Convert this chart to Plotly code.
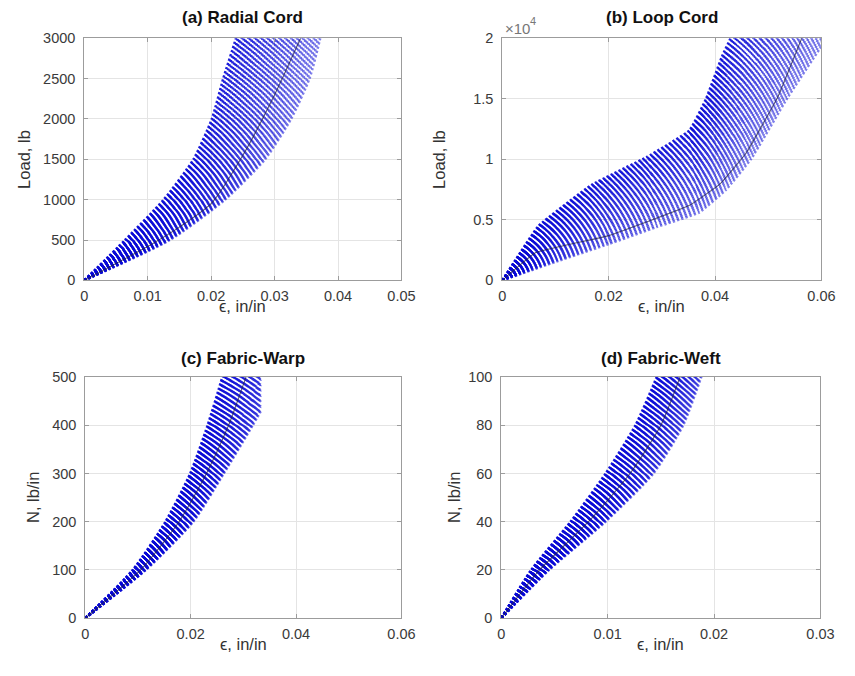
import numpy as np
import plotly.graph_objects as go

W, H = 855, 676

# ---------------- data ----------------
# (a) Radial Cord : envelope of the curve family at common loads (lb)
a_load = [0, 500, 1000, 1500, 2000, 2500, 3000, 3500]
a_eps_stiff = [0, 0.0064, 0.0125, 0.0172, 0.0201, 0.0219, 0.0239, 0.0255]
a_eps_soft = [0, 0.0135, 0.0222, 0.0285, 0.0326, 0.0355, 0.0372, 0.0385]
a_nom_eps = [0, 0.0055, 0.0100, 0.0150, 0.0200, 0.0250, 0.0300, 0.0341]
a_nom_load = [0, 230, 420, 660, 950, 1550, 2300, 3000]

# (b) Loop Cord
b_stiff_eps = [0, 0.0068, 0.0168, 0.0272, 0.0352, 0.0383, 0.0413, 0.0429, 0.0445]
b_stiff_load = [0, 4500, 7900, 10200, 12400, 15000, 18500, 20000, 22000]
b_soft_eps = [0, 0.0105, 0.0200, 0.0290, 0.0370, 0.0420, 0.0468, 0.0536, 0.0610]
b_soft_load = [0, 1600, 3000, 4400, 5600, 7450, 10040, 15060, 20000]
b_nom_eps = [0, 0.0063, 0.0200, 0.0352, 0.0410, 0.0458, 0.0517, 0.0563]
b_nom_load = [0, 2300, 3700, 6200, 8000, 10500, 15060, 20000]

# (c) Fabric-Warp (N, lb/in)
c_load = [0, 100, 200, 300, 400, 500, 600]
c_eps_stiff = [0, 0.0090, 0.0152, 0.0199, 0.0232, 0.0260, 0.0285]
c_eps_soft = [0, 0.0115, 0.0205, 0.0263, 0.0318, 0.0370, 0.0420]
c_eps_max = 0.0333
c_nom_eps = [0, 0.0105, 0.0178, 0.0230, 0.0272, 0.0305]
c_nom_load = [0, 100, 200, 300, 400, 500]

# (d) Fabric-Weft (N, lb/in)
d_load = [0, 20, 40, 60, 80, 100, 120]
d_eps_stiff = [0, 0.0028, 0.0065, 0.0098, 0.0126, 0.0146, 0.0163]
d_eps_soft = [0, 0.0045, 0.0098, 0.0143, 0.0171, 0.0188, 0.0203]
d_nom_eps = [0, 0.0036, 0.0082, 0.0121, 0.0150, 0.0168]
d_nom_load = [0, 20, 40, 60, 80, 100]

# ticks
a_xt = [0, 0.01, 0.02, 0.03, 0.04, 0.05]
a_xl = ['0', '0.01', '0.02', '0.03', '0.04', '0.05']
a_yt = [0, 500, 1000, 1500, 2000, 2500, 3000]
a_yl = ['0', '500', '1000', '1500', '2000', '2500', '3000']
b_xt = [0, 0.02, 0.04, 0.06]
b_xl = ['0', '0.02', '0.04', '0.06']
b_yt = [0, 5000, 10000, 15000, 20000]
b_yl = ['0', '0.5', '1', '1.5', '2']
c_xt = [0, 0.02, 0.04, 0.06]
c_xl = ['0', '0.02', '0.04', '0.06']
c_yt = [0, 100, 200, 300, 400, 500]
c_yl = ['0', '100', '200', '300', '400', '500']
d_xt = [0, 0.01, 0.02, 0.03]
d_xl = ['0', '0.01', '0.02', '0.03']
d_yt = [0, 20, 40, 60, 80, 100]
d_yl = ['0', '20', '40', '60', '80', '100']

titles = ['(a) Radial Cord', '(b) Loop Cord', '(c) Fabric-Warp', '(d) Fabric-Weft']
ylabels = ['Load, lb', 'Load, lb', 'N, lb/in', 'N, lb/in']
xlabel = '\u03f5, in/in'
b_exp_base = '\u00d710'
b_exp_power = '4'

# ---------------- styling ----------------
N_CURVES = 42
FONT = 'Liberation Sans, Arial, sans-serif'
AXC = '#9c9c9c'
GRID = '#e4e4e4'

fig = go.Figure()


def clip_x(x, y, xmax):
    xs, ys = [x[0]], [y[0]]
    for i in range(1, len(x)):
        if x[i] <= xmax:
            xs.append(x[i]); ys.append(y[i])
        else:
            t = (xmax - x[i - 1]) / (x[i] - x[i - 1])
            xs.append(xmax); ys.append(y[i - 1] + t * (y[i] - y[i - 1]))
            break
    return xs, ys


def add_band(ax_id, x0, y0, x1, y1, nom_x, nom_y, xmax=None, smooth=0.6):
    x0, y0, x1, y1 = map(lambda v: np.asarray(v, float), (x0, y0, x1, y1))
    xa = 'x' if ax_id == 1 else f'x{ax_id}'
    ya = 'y' if ax_id == 1 else f'y{ax_id}'
    for k in range(N_CURVES):
        f = k / (N_CURVES - 1)
        xs = (1 - f) * x0 + f * x1
        ys = (1 - f) * y0 + f * y1
        if xmax is not None:
            xs, ys = clip_x(list(xs), list(ys), xmax)
        alpha = 0.92 - 0.40 * f
        fig.add_trace(go.Scatter(
            x=xs, y=ys, mode='lines', xaxis=xa, yaxis=ya,
            line=dict(color=f'rgba(10,10,215,{alpha:.3f})', width=2.4,
                      dash='2.3px,2.1px', shape='spline', smoothing=smooth),
            hoverinfo='skip', showlegend=False))
    fig.add_trace(go.Scatter(
        x=nom_x, y=nom_y, mode='lines', xaxis=xa, yaxis=ya,
        line=dict(color='rgba(35,35,70,0.7)', width=1.1, shape='spline', smoothing=smooth),
        hoverinfo='skip', showlegend=False))


add_band(1, a_eps_stiff, a_load, a_eps_soft, a_load, a_nom_eps, a_nom_load)
add_band(2, b_stiff_eps, b_stiff_load, b_soft_eps, b_soft_load, b_nom_eps, b_nom_load, smooth=0.3)
add_band(3, c_eps_stiff, c_load, c_eps_soft, c_load, c_nom_eps, c_nom_load, xmax=c_eps_max)
add_band(4, d_eps_stiff, d_load, d_eps_soft, d_load, d_nom_eps, d_nom_load)

# plot-area boxes in pixels: (left, top, right, bottom)
boxes = [(82, 31, 406, 279), (509, 31, 835, 279), (83, 378, 406, 625), (508, 378, 834, 625)]
xr = [[0, 0.05], [0, 0.06], [0, 0.06], [0, 0.03]]
yr = [[0, 3000], [0, 20000], [0, 500], [0, 100]]
xts = [(a_xt, a_xl), (b_xt, b_xl), (c_xt, c_xl), (d_xt, d_xl)]
yts = [(a_yt, a_yl), (b_yt, b_yl), (c_yt, c_yl), (d_yt, d_yl)]

common = dict(showline=True, linecolor=AXC, linewidth=1, mirror='ticks', ticks='inside',
              ticklen=4, tickcolor=AXC, showgrid=True, gridcolor=GRID, gridwidth=1,
              zeroline=False, fixedrange=True,
              tickfont=dict(family=FONT, size=14.5, color='#3a3a3a'))

layout = {}
annotations = []
for i, (l, t, r, b) in enumerate(boxes):
    n = '' if i == 0 else str(i + 1)
    layout['xaxis' + n] = dict(common, domain=[l / W, r / W], range=xr[i],
                               tickvals=xts[i][0], ticktext=xts[i][1],
                               anchor='y' + n, ticklabelstandoff=2)
    layout['yaxis' + n] = dict(common, domain=[1 - b / H, 1 - t / H], range=yr[i],
                               tickvals=yts[i][0], ticktext=yts[i][1],
                               anchor='x' + n, ticklabelstandoff=5)
    cx = (l + r) / 2
    ty = t - 21 if i < 2 else t - 19
    annotations.append(dict(text='<b>' + titles[i] + '</b>', x=cx / W, y=1 - ty / H,
                            xref='paper', yref='paper', showarrow=False,
                            xanchor='center', yanchor='middle',
                            font=dict(family=FONT, size=17, color='#111')))
    annotations.append(dict(text=xlabel, x=cx / W, y=1 - (b + 26) / H,
                            xref='paper', yref='paper', showarrow=False,
                            xanchor='center', yanchor='middle',
                            font=dict(family=FONT, size=16.5, color='#333')))
ylab_x = [21, 445, 29, 459]
for i, (l, t, r, b) in enumerate(boxes):
    annotations.append(dict(text=ylabels[i], x=ylab_x[i] / W, y=1 - ((t + b) / 2) / H,
                            xref='paper', yref='paper', showarrow=False, textangle=-90,
                            xanchor='center', yanchor='middle',
                            font=dict(family=FONT, size=16.5, color='#333')))
annotations.append(dict(text=b_exp_base, x=510 / W, y=1 - 21 / H,
                        xref='paper', yref='paper', showarrow=False,
                        xanchor='left', yanchor='middle',
                        font=dict(family=FONT, size=15, color='#777')))
annotations.append(dict(text=b_exp_power, x=535 / W, y=1 - 13 / H,
                        xref='paper', yref='paper', showarrow=False,
                        xanchor='left', yanchor='middle',
                        font=dict(family=FONT, size=11, color='#777')))

fig.update_layout(width=W, height=H, margin=dict(l=0, r=0, t=0, b=0),
                  paper_bgcolor='white', plot_bgcolor='white', showlegend=False,
                  font=dict(family=FONT, size=14.5, color='#333'),
                  annotations=annotations, **layout)

fig.write_html('out.html')
